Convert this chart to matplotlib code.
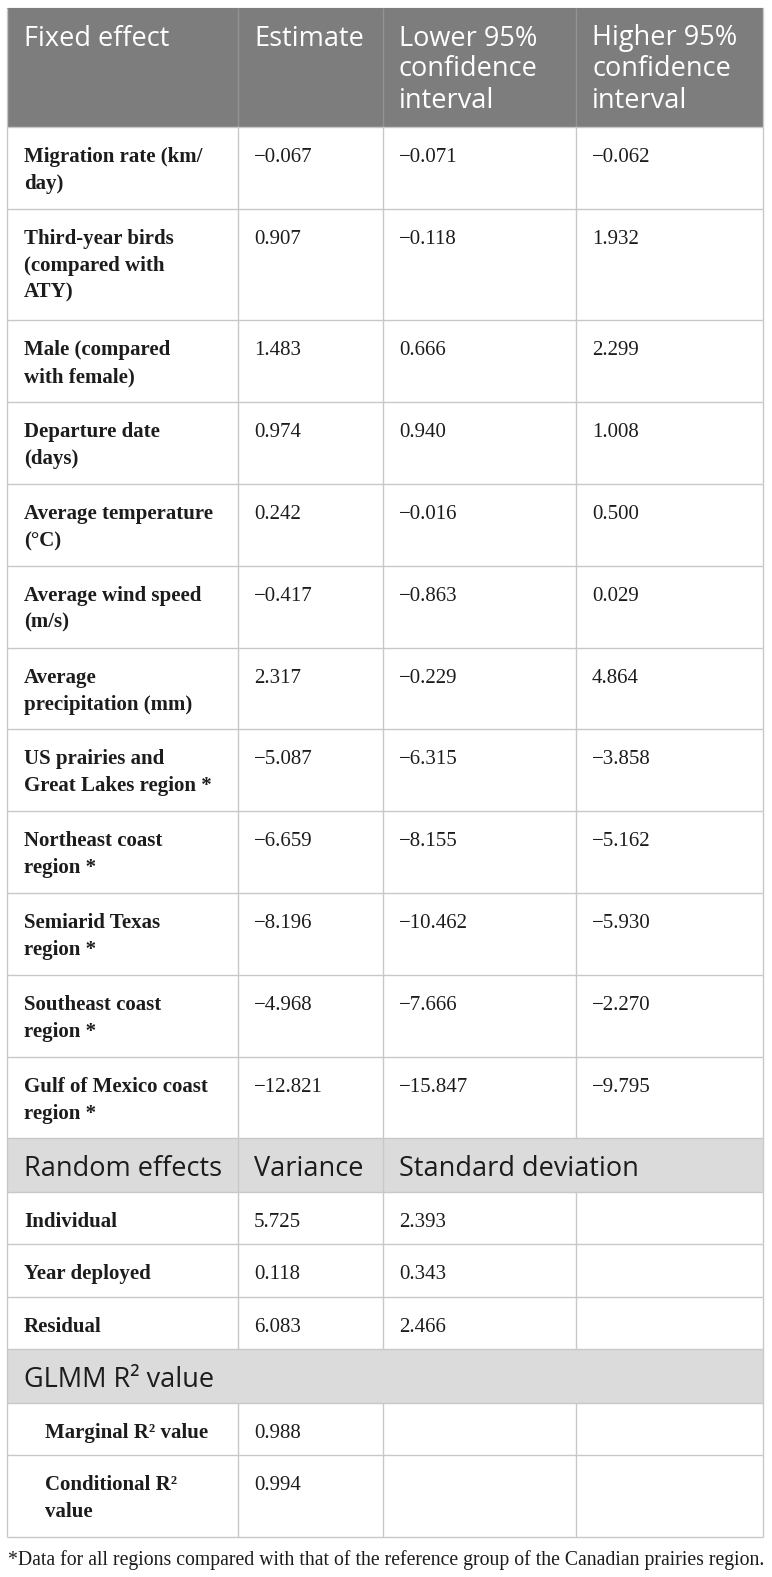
import matplotlib
matplotlib.use("Agg")
import matplotlib.pyplot as plt
from matplotlib.patches import Rectangle

# ---------- DATA ----------
header = ["Fixed effect", "Estimate", "Lower 95%\nconfidence\ninterval", "Higher 95%\nconfidence\ninterval"]

fixed_effects = [
    "Migration rate (km/\nday)",
    "Third-year birds\n(compared with\nATY)",
    "Male (compared\nwith female)",
    "Departure date\n(days)",
    "Average temperature\n(°C)",
    "Average wind speed\n(m/s)",
    "Average\nprecipitation (mm)",
    "US prairies and\nGreat Lakes region *",
    "Northeast coast\nregion *",
    "Semiarid Texas\nregion *",
    "Southeast coast\nregion *",
    "Gulf of Mexico coast\nregion *",
]
estimate = [-0.067, 0.907, 1.483, 0.974, 0.242, -0.417, 2.317, -5.087, -6.659, -8.196, -4.968, -12.821]
lower_ci = [-0.071, -0.118, 0.666, 0.940, -0.016, -0.863, -0.229, -6.315, -8.155, -10.462, -7.666, -15.847]
higher_ci = [-0.062, 1.932, 2.299, 1.008, 0.500, 0.029, 4.864, -3.858, -5.162, -5.930, -2.270, -9.795]

random_header = ["Random effects", "Variance", "Standard deviation"]
random_effects = ["Individual", "Year deployed", "Residual"]
variance = [5.725, 0.118, 6.083]
std_dev = [2.393, 0.343, 2.466]

glmm_header = "GLMM R² value"
glmm_rows = ["Marginal R² value", "Conditional R²\nvalue"]
glmm_values = [0.988, 0.994]

footnote = "*Data for all regions compared with that of the reference group of the Canadian prairies region."

# ---------- STYLE ----------
SANS = "Open Sans"
SERIF = "Liberation Serif"
DARK_BG = "#7d7d7d"
LIGHT_BG = "#dbdbdb"
GRID = "#c8c8c8"
TEXT = "#1c1c1c"

col_edges = [7, 238, 383, 576, 763]
top = 8


def fmt(v):
    return f"{v:.3f}".replace("-", "\u2212")


def nlines(cells):
    return max(c.count("\n") + 1 for c in cells)


# build row list: (kind, cells, inner column lines drawn)
rows = [("head", header, [1, 2, 3])]
for lab, e, lo, hi in zip(fixed_effects, estimate, lower_ci, higher_ci):
    rows.append(("body", [lab, fmt(e), fmt(lo), fmt(hi)], [1, 2, 3]))
rows.append(("sub", random_header, [1, 2]))
for lab, v, s in zip(random_effects, variance, std_dev):
    rows.append(("body", [lab, fmt(v), fmt(s), ""], [1, 2, 3]))
rows.append(("sub", [glmm_header], []))
for lab, v in zip(glmm_rows, glmm_values):
    rows.append(("indent", [lab, fmt(v), "", ""], [1, 2, 3]))

# ---------- DRAW ----------
fig = plt.figure(figsize=(7.72, 15.77), dpi=100)
ax = fig.add_axes([0, 0, 1, 1])
ax.set_xlim(0, 772)
ax.set_ylim(1577, 0)
ax.axis("off")

y = top
for kind, cells, inner in rows:
    n = nlines(cells)
    if kind == "head":
        h = 26 + 31 * n
    elif kind == "sub":
        h = 53.5
    else:
        h = 22.2 + 29.8 * n
        if n == 1:
            h = 52.5

    if kind in ("head", "sub"):
        ax.add_patch(Rectangle((col_edges[0], y), col_edges[-1] - col_edges[0], h,
                               facecolor=DARK_BG if kind == "head" else LIGHT_BG,
                               edgecolor="none", zorder=1))

    # grid lines
    line_col = "#939393" if kind == "head" else GRID
    for i in inner:
        ax.vlines(col_edges[i], y, y + h, color=line_col, lw=1.0, zorder=2)
    ax.vlines([col_edges[0], col_edges[-1]], y, y + h, color=GRID, lw=1.0, zorder=2)
    ax.hlines(y + h, col_edges[0], col_edges[-1], color=GRID, lw=1.0, zorder=2)

    # text
    for ci, txt in enumerate(cells):
        if not txt:
            continue
        x = col_edges[ci] + (17 if ci == 0 else 16)
        if kind == "indent" and ci == 0:
            x = col_edges[0] + 38
        if kind in ("head", "sub"):
            color = "white" if kind == "head" else TEXT
            for li, part in enumerate(txt.split("\n")):
                ax.text(x, y + 37.5 + li * 31, part, fontsize=19.5, family=SANS,
                        color=color, va="baseline", ha="left", zorder=3)
        else:
            weight = "bold" if ci == 0 else "normal"
            for li, part in enumerate(txt.split("\n")):
                ax.text(x, y + 35 + li * 27, part, fontsize=15, family=SERIF,
                        weight=weight, color=TEXT, va="baseline", ha="left", zorder=3)
    y += h

ax.hlines(top, col_edges[0], col_edges[-1], color=GRID, lw=1.0, zorder=0)

# footnote
ax.text(col_edges[0] + 1, 1565, footnote, fontsize=14.2, family=SERIF,
        color=TEXT, va="baseline", ha="left")

fig.savefig("out.png", dpi=100)
